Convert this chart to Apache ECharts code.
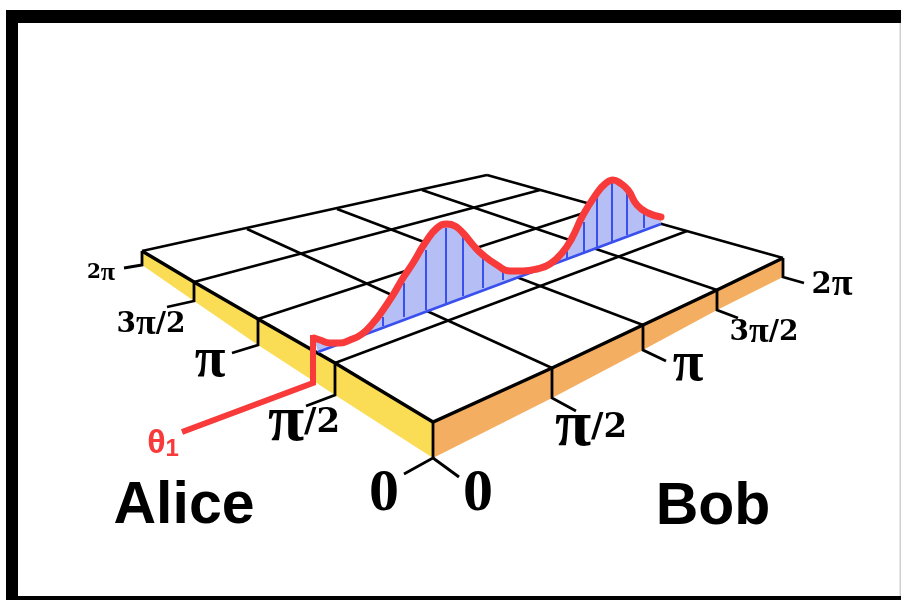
<!DOCTYPE html>
<html><head><meta charset="utf-8">
<style>html,body{margin:0;padding:0;background:#fff}#c{width:901px;height:600px}</style>
<script src="https://cdn.jsdelivr.net/npm/echarts@6/dist/echarts.min.js"></script>
</head><body><div id="c"></div>
<script>
// Points, in picture units
const yellowFace = [[142,251],[194,282],[258,319],[335,363],[433,422],[433,458],[335,395],[258,345],[194,301],[142,265]];
const orangeFace = [[433,422],[552,368],[643,325],[717,290],[783,258],[783,277],[717,310],[643,350],[552,398],[433,458]];
const aliceGridLines = [[[335,363],[687,231]],[[258,319],[602,207]],[[194,282],[540,190]],[[142,251],[487,175]]];
const bobGridLines = [[[552,368],[247,229]],[[643,325],[337,209]],[[717,290],[422,190]],[[783,258],[487,175]]];
const frontEdges = [[[142,251],[194,282],[258,319],[335,363],[433,422],[552,368],[643,325],[717,290],[783,258]]];
const tickMarks = [
  [[142,251],[142,265],[124,268]],
  [[194,282],[194,301],[167,307]],
  [[258,319],[258,345],[232,353]],
  [[335,363],[335,395],[306,406]],
  [[433,422],[433,458],[404,474]],
  [[433,458],[459,477]],
  [[552,368],[552,398],[576,411]],
  [[643,325],[643,350],[666,361]],
  [[717,290],[717,310],[738,318]],
  [[783,258],[783,277],[804,283]]
];
const curveX = [314,320,330,340,350,362,373,383,393,403,413,425,437,447,455,463,473,483,497,510,523,537,550,562,572,583,597,605,613,620,628,637,648,661];
const curveY = [338,340,343,343,340,334,323,310,295,278,263,243,228,224,226,233,245,255,265,271,271,269,264,253,238,215,193,184,180,183,190,205,213,217];
const baseline = [[318,352],[661,224]];
const stemX = [383,404,426,446,463,483,503,567,584,597,612,627,644];
const stemTop = [317,283,250,228,235,257,270,250,222,197,182,193,210];
const stemBottom = [326,317,310,303,296,288,280,258,252,247,242,235,228];
const leader = [[182,432],[313,383],[313,335]];
const tickText = ['{d|2}{p|π}','{d|3}{p|π}{d|/2}','{p|π}','{p|π}{d|/2}','{z|0}','{z|0}','{p|π}{d|/2}','{p|π}','{d|3}{p|π}{d|/2}','{d|2}{p|π}'];
const tickX = [101,151,210,304,384,478,591,688,764,832];
const tickY = [273,325,362,423,494,494,428,366,333,285];
const digitSize = [20,28,28,34,60,60,34,28,28,29];
const piSize = [26,36,56,66,56,56,66,56,36,38];
const nameText = ['Alice','Bob'];
const nameX = [184,713];
const nameY = [507,508];

const BLACK = '#000', RED = '#f83a3a', BLUE = '#3a50ee', FILL = '#b5bff6';
const xy = (x, y) => [x, y];
const curve = curveX.map((x, i) => xy(x, curveY[i]));
const base = { silent: true, animation: false, tooltip: { show: false } };
const solid = { itemStyle: { opacity: 1 } };

function polyline(name, data, color, width, z, extra) {
  return Object.assign({}, base, {
    name, type: 'line', data, z, symbol: 'none', clip: false,
    lineStyle: { color, width, join: 'miter', cap: 'butt' }
  }, extra || {});
}
function polygon(name, data, color, z) {
  return Object.assign({}, base, {
    name, type: 'custom', data, z, clip: false,
    renderItem(params, api) {
      if (params.dataIndex !== 0) return null;
      const points = data.map(p => api.coord(p));
      return { type: 'polygon', shape: { points }, style: { fill: color } };
    }
  });
}

const series = [
  polygon('Alice side', yellowFace, '#fadc55', 1),
  polygon('Bob side', orangeFace, '#f4ae62', 1)
];
aliceGridLines.forEach((l, i) => series.push(polyline('Alice grid ' + i, l, BLACK, 2.6, 2)));
bobGridLines.forEach((l, i) => series.push(polyline('Bob grid ' + i, l, BLACK, 2.6, 2)));
tickMarks.forEach((l, i) => series.push(polyline('Tick ' + i, l, BLACK, 2.8, 2)));
frontEdges.forEach((l, i) => series.push(polyline('Front edge ' + i, l, BLACK, 3.4, 3)));
series.push(polygon('Density', curve.concat([[661,224],[318,352]]), FILL, 4));
stemX.forEach((x, i) => series.push(polyline('Stem ' + i, [xy(x, stemTop[i]), xy(x, stemBottom[i])], BLUE, 2, 5)));
series.push(polyline('Baseline', baseline, BLUE, 2.8, 6));
series.push(polyline('Leader', leader, RED, 6, 7));
series.push(polyline('Curve', curve, RED, 7, 8, { smooth: 0.5, lineStyle: { color: RED, width: 7, cap: 'round', join: 'round' } }));

series.push(Object.assign({}, base, solid, {
  name: 'Tick labels', type: 'scatter', symbolSize: 0, z: 9, clip: false,
  data: tickText.map((t, i) => ({
    value: xy(tickX[i], tickY[i]),
    label: {
      show: true, position: 'inside', formatter: t, color: BLACK,
      align: 'center', verticalAlign: 'middle',
      rich: {
        d: { fontFamily: 'DejaVu Serif', fontWeight: 'bold', fontSize: digitSize[i], color: BLACK },
        p: { fontFamily: 'Liberation Serif', fontWeight: 'bold', fontSize: piSize[i], color: BLACK },
        z: { fontFamily: 'Liberation Serif', fontWeight: 'bold', fontSize: digitSize[i], color: BLACK }
      }
    }
  }))
}));
series.push(Object.assign({}, base, solid, {
  name: 'Players', type: 'scatter', symbolSize: 0, z: 9, clip: false,
  data: nameText.map((t, i) => ({
    value: xy(nameX[i], nameY[i]),
    label: {
      show: true, position: 'inside', formatter: t, color: BLACK,
      fontFamily: 'Liberation Sans', fontWeight: 'bold', fontSize: 59,
      align: 'center', verticalAlign: 'middle'
    }
  }))
}));
series.push(Object.assign({}, base, solid, {
  name: 'Theta', type: 'scatter', symbolSize: 0, z: 9, clip: false,
  data: [{
    value: xy(163, 444),
    label: {
      show: true, position: 'inside', formatter: '{t|θ}{s|1}',
      align: 'center', verticalAlign: 'middle',
      rich: {
        t: { fontFamily: 'Liberation Sans', fontWeight: 'bold', fontSize: 34, color: RED },
        s: { fontFamily: 'Liberation Sans', fontWeight: 'bold', fontSize: 24, color: RED, padding: [10, 0, 0, 0] }
      }
    }
  }]
}));

const chart = echarts.init(document.getElementById('c'), null, { renderer: 'canvas' });
chart.setOption({
  animation: false,
  backgroundColor: '#fff',
  grid: { left: 0, right: 0, top: 0, bottom: 0 },
  xAxis: { type: 'value', min: 0, max: 901, show: false },
  yAxis: { type: 'value', min: 0, max: 600, inverse: true, show: false },
  graphic: [
    { type: 'rect', z: 0, shape: { x: 6, y: 10, width: 895, height: 13 }, style: { fill: '#000' } },
    { type: 'rect', z: 0, shape: { x: 6, y: 10, width: 12, height: 590 }, style: { fill: '#000' } },
    { type: 'rect', z: 0, shape: { x: 6, y: 596, width: 895, height: 4 }, style: { fill: '#000' } },
    { type: 'rect', z: 0, shape: { x: 899.5, y: 23, width: 1.5, height: 573 }, style: { fill: '#cfcfcf' } }
  ],
  series
});
</script></body></html>
